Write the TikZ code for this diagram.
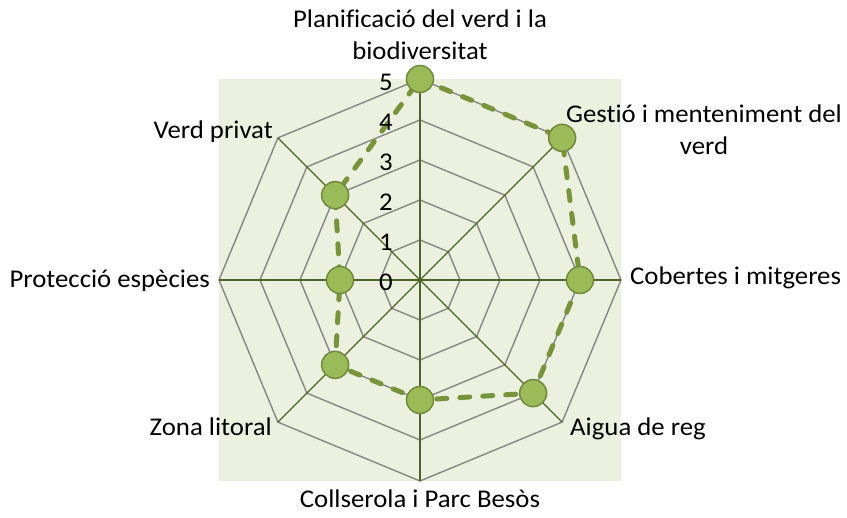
\documentclass[tikz,border=0pt]{standalone}
\usepackage{fontspec}
\setmainfont{Carlito}[Ligatures=CommonOff,FakeStretch=1.05]
\definecolor{plotbg}{HTML}{EBF1DE}
\definecolor{gridgray}{HTML}{868686}
\definecolor{axisgreen}{HTML}{4F6228}
\definecolor{dotfill}{HTML}{9BBB59}
\definecolor{dotline}{HTML}{71893F}
\definecolor{serieline}{HTML}{77933C}
\begin{document}
\begin{tikzpicture} [x=1pt,y=1pt,font=\fontsize{25.5}{32}\selectfont,
		ring/.style={gridgray,line width=1.4pt},
		spoke/.style={axisgreen,line width=1.4pt},
		serie/.style={serieline,line width=5pt,line cap=round,dash pattern=on 10pt off 13pt},
		datadot/.style={circle,fill=dotfill,draw=dotline,line width=1.5pt,minimum size=27pt,inner sep=0pt},
		lbl/.style={inner sep=0pt}]
		\useasboundingbox (-420,-238) rectangle (427,280);
		\fill [plotbg] (-201,-201) rectangle (201,201);
		\draw [ring] (90:40) -- (45:40) -- (0:40) -- (-45:40) -- (-90:40) -- (-135:40) -- (180:40) -- (135:40) -- cycle;
		\draw [ring] (90:80) -- (45:80) -- (0:80) -- (-45:80) -- (-90:80) -- (-135:80) -- (180:80) -- (135:80) -- cycle;
		\draw [ring] (90:120) -- (45:120) -- (0:120) -- (-45:120) -- (-90:120) -- (-135:120) -- (180:120) -- (135:120) -- cycle;
		\draw [ring] (90:160) -- (45:160) -- (0:160) -- (-45:160) -- (-90:160) -- (-135:160) -- (180:160) -- (135:160) -- cycle;
		\draw [ring] (90:201) -- (45:201) -- (0:201) -- (-45:201) -- (-90:201) -- (-135:201) -- (180:201) -- (135:201) -- cycle;
		\coordinate (o) at (0,0);
		\coordinate (v1) at (90:201);
		\coordinate (v2) at (45:201);
		\coordinate (v3) at (0:201);
		\coordinate (v4) at (-45:201);
		\coordinate (v5) at (-90:201);
		\coordinate (v6) at (-135:201);
		\coordinate (v7) at (180:201);
		\coordinate (v8) at (135:201);
		\draw [spoke] (o) -- (v1);
		\draw [spoke] (o) -- (v2);
		\draw [spoke] (o) -- (v3);
		\draw [spoke] (o) -- (v4);
		\draw [spoke] (o) -- (v5);
		\draw [spoke] (o) -- (v6);
		\draw [spoke] (o) -- (v7);
		\draw [spoke] (o) -- (v8);
		% values 5 5 4 4 3 3 2 3
		\coordinate (c1) at (90:201);
		\coordinate (c2) at (45:201);
		\coordinate (c3) at (0:160);
		\coordinate (c4) at (-45:160);
		\coordinate (c5) at (-90:120);
		\coordinate (c6) at (-135:120);
		\coordinate (c7) at (180:80);
		\coordinate (c8) at (135:120);
		\draw [serie] (c1) -- (c2) -- (c3) -- (c4) -- (c5) -- (c6) -- (c7) -- (c8) -- (c1);
		\node [datadot] (d1) at (c1) {};
		\node [datadot] (d2) at (c2) {};
		\node [datadot] (d3) at (c3) {};
		\node [datadot] (d4) at (c4) {};
		\node [datadot] (d5) at (c5) {};
		\node [datadot] (d6) at (c6) {};
		\node [datadot] (d7) at (c7) {};
		\node [datadot] (d8) at (c8) {};
		\node [lbl,anchor=east] (s0) at (-27,-2) {0};
		\node [lbl,anchor=east] (s1) at (-27,38) {1};
		\node [lbl,anchor=east] (s2) at (-27,78) {2};
		\node [lbl,anchor=east] (s3) at (-27,118) {3};
		\node [lbl,anchor=east] (s4) at (-27,158) {4};
		\node [lbl,anchor=east] (s5) at (-27,198) {5};
		\node [lbl,anchor=base,align=center] (plan) at (0,220) {Planificació del verd i la\\biodiversitat};
		\node [lbl,anchor=base,align=center] (gest) at (284,125) {Gestió i menteniment del\\verd};
		\node [lbl,anchor=base west] (cobe) at (210,-5) {Cobertes i mitgeres};
		\node [lbl,anchor=base west] (aigu) at (150,-156) {Aigua de reg};
		\node [lbl,anchor=base] (coll) at (0,-228) {Collserola i Parc Besòs};
		\node [lbl,anchor=base east] (zona) at (-148,-156) {Zona litoral};
		\node [lbl,anchor=base east] (prot) at (-210,-8) {Protecció espècies};
		\node [lbl,anchor=base east] (priv) at (-147,141) {Verd privat};
	\end{tikzpicture}
\end{document}
